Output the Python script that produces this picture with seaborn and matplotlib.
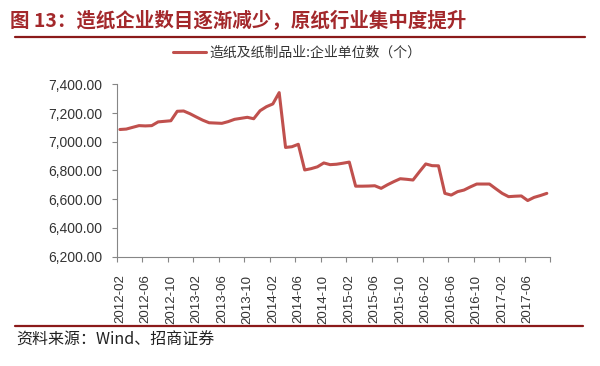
import numpy as np
import pandas as pd
import matplotlib
matplotlib.use("Agg")
import matplotlib.pyplot as plt
from matplotlib.lines import Line2D
import seaborn as sns

# monthly series 2012-02 .. 2017-09
months = list(pd.period_range("2012-02", "2017-09", freq="M").strftime("%Y-%m"))
counts = [7085, 7088, 7100, 7112, 7110, 7112, 7138, 7142, 7146, 7212,
          7214, 7195, 7172, 7150, 7132, 7130, 7128, 7140, 7156, 7163,
          7170, 7160, 7216, 7244, 7263, 7342, 6960, 6965, 6982, 6803,
          6812, 6825, 6852, 6840, 6843, 6850, 6858, 6690, 6690, 6691,
          6693, 6675, 6700, 6722, 6742, 6738, 6733, 6790, 6845, 6833,
          6832, 6640, 6628, 6652, 6663, 6685, 6705, 6705, 6705, 6672,
          6640, 6617, 6620, 6622, 6590, 6612, 6625, 6640]
series_name = "造纸及纸制品业:企业单位数（个）"
title = "图 13：造纸企业数目逐渐减少，原纸行业集中度提升"
source = "资料来源：Wind、招商证券"
yticks = [6200, 6400, 6600, 6800, 7000, 7200, 7400]

sns.set_theme(style="white")
plt.rcParams["font.family"] = ["Liberation Sans", "Noto Sans CJK SC", "DejaVu Sans"]
cjk = ["Noto Sans CJK SC", "DejaVu Sans"]

df = pd.DataFrame({"idx": np.arange(len(months)), "month": months, "value": counts})

W, H = 600, 366
fig = plt.figure(figsize=(6, 3.66), dpi=100)
ax = fig.add_axes([116.7 / W, 1 - 256.5 / H, (550 - 116.7) / W, (256.5 - 84.3) / H])

sns.lineplot(data=df, x="idx", y="value", ax=ax, color="#C0504D", linewidth=2.2,
             label=series_name)

ax.set_xlim(-0.5, len(months) - 0.5)
ax.set_ylim(6200, 7400)
ax.set_yticks(yticks)
ax.set_yticklabels([f"{v:,.2f}" for v in yticks], fontsize=10, color="#333333")

ax.set_xticks(np.arange(-0.5, len(months), 4))
ax.set_xticklabels([])
ax.set_xticks(df["idx"][::4], minor=True)
ax.set_xticklabels(df["month"][::4], minor=True, rotation=90, fontsize=9.5, color="#333333")
ax.tick_params(axis="x", which="minor", length=0, pad=13)
ax.tick_params(axis="both", which="major", direction="out", length=3.6, width=0.8,
               color="#868686", bottom=True, left=True)
ax.tick_params(axis="y", pad=7)
ax.set_xlabel("")
ax.set_ylabel("")
for side in ["top", "right"]:
    ax.spines[side].set_visible(False)
for side in ["left", "bottom"]:
    ax.spines[side].set_color("#868686")
    ax.spines[side].set_linewidth(0.8)

leg = ax.legend(loc="center", bbox_to_anchor=(297 / W, 1 - 53 / H),
                bbox_transform=fig.transFigure, frameon=False, handlelength=2.4,
                handletextpad=0.2, prop={"family": cjk, "size": 10})
for t in leg.get_texts():
    t.set_color("#333333")

fig.text(10 / W, 1 - 21 / H, title, family=cjk, fontsize=14, fontweight="bold",
         color="#A3282B", va="center", ha="left")
fig.add_artist(Line2D([15 / W, 585 / W], [1 - 37 / H] * 2, color="#8B1A1A", lw=1.6))
fig.add_artist(Line2D([15 / W, 583 / W], [1 - 326 / H] * 2, color="#8B1A1A", lw=1.6))
fig.text(16 / W, 1 - 340 / H, source, family=cjk, fontsize=11.5, color="#222222",
         va="center", ha="left")

fig.savefig("out.png", dpi=100)
